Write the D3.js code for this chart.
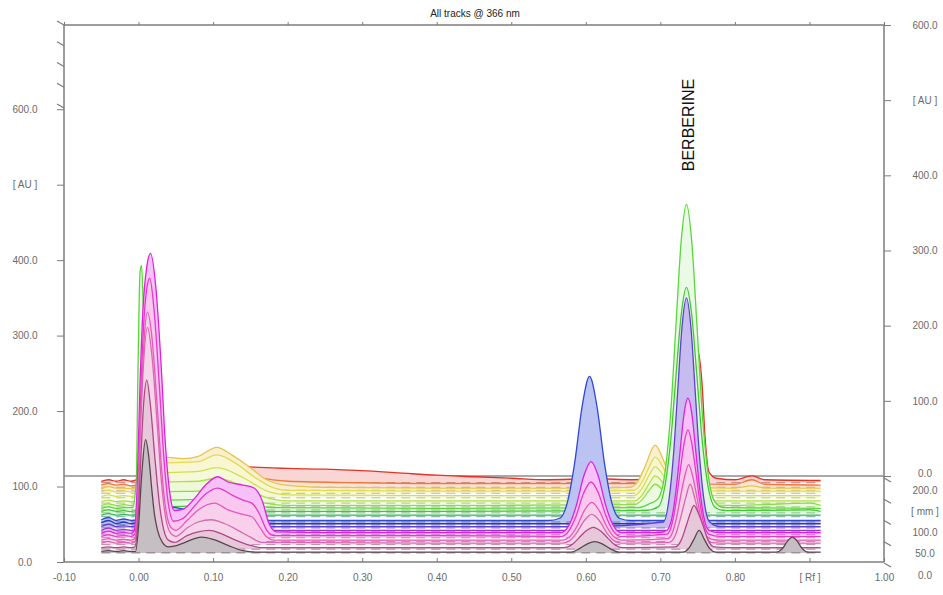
<!DOCTYPE html>
<html><head><meta charset="utf-8">
<script src="https://cdn.jsdelivr.net/npm/d3@7"></script>
<style>body{margin:0;background:#fff;} svg{display:block;font-family:"Liberation Sans",Arial,sans-serif;}</style>
</head><body><svg id="c" width="943" height="595"></svg>
<script>
// ---------------- data ----------------
const title = "All tracks @ 366 nm";
const peakLabel = "BERBERINE";
const peakLabelRf = 0.747;
const rfTicks = [-0.1, 0, 0.1, 0.2, 0.3, 0.4, 0.5, 0.6, 0.7, 0.8, 0.9, 1.0];
const rfTickLabels = ["-0.10","0.00","0.10","0.20","0.30","0.40","0.50","0.60","0.70","0.80","[ Rf ]","1.00"];
const auTicks = [0, 100, 200, 300, 400, 500, 600];
const auTickLabels = ["0.0","100.0","200.0","300.0","400.0","[ AU ]","600.0"];
const mmTicks = [0, 50, 100, 150, 200];
const mmTickLabels = ["0.0","50.0","100.0","[ mm ]","200.0"];

// track baselines (AU on the left scale), back (0) to front (19)
const trackBaselines = [105, 99, 95, 91, 85, 78, 73, 69, 65, 60, 53, 49, 45, 40, 36, 32, 27, 23, 17, 12];
const trackColors = ["#e03424","#f07838","#e6c448","#e2dc50","#d0e050","#b0e048","#88e040","#58d838","#40c830","#30b860",
                     "#3048d8","#2838b8","#6040d0","#a030d8","#e020e0","#e838c8","#e858b8","#d868b0","#b04888","#5a4650"];
const trackFillMix = [0.2,0.2,0.25,0.25,0.22,0.2,0.15,0.12,0.15,0.2,0.33,0.35,0.35,0.3,0.28,0.28,0.28,0.28,0.3,0.35];

// densitogram of each track: [Rf, AU above the track's baseline]
const trackProfiles = [
 // 0 red
 [[-0.05,2],[-0.04,4],[-0.03,2],[-0.02,4],[-0.01,2],[0.00,5],[0.02,18],[0.05,24],[0.10,26],[0.15,21],[0.20,19],[0.25,18],[0.30,16],[0.35,13],[0.40,10],[0.45,8],[0.50,6],[0.55,4],[0.59,5],[0.612,12],[0.63,5],[0.66,4],[0.70,5],[0.72,12],[0.73,80],[0.74,170],[0.75,175],[0.756,130],[0.760,60],[0.765,15],[0.775,6],[0.80,4],[0.823,9],[0.84,4],[0.915,3]],
 // 1 orange-red
 [[-0.05,3],[-0.04,5],[-0.03,3],[-0.02,4],[-0.01,2],[0.00,4],[0.03,25],[0.10,28],[0.15,15],[0.20,8],[0.30,6],[0.40,5],[0.50,5],[0.59,5],[0.612,10],[0.63,5],[0.70,5],[0.80,4],[0.823,10],[0.84,4],[0.915,3]],
 // 2 amber-yellow
 [[-0.05,2],[-0.04,5],[-0.03,3],[-0.02,3],[-0.01,2],[0.00,5],[0.02,30],[0.035,44],[0.06,42],[0.08,45],[0.105,57],[0.125,47],[0.15,30],[0.17,15],[0.19,8],[0.25,4],[0.40,3],[0.60,3],[0.66,4],[0.67,12],[0.68,33],[0.693,60],[0.705,38],[0.715,14],[0.725,5],[0.74,4],[0.80,3],[0.823,6],[0.84,3],[0.915,3]],
 // 3 yellow
 [[-0.05,2],[-0.04,4],[-0.03,2],[-0.02,3],[-0.01,2],[0.00,5],[0.02,28],[0.035,40],[0.08,42],[0.105,51],[0.13,40],[0.155,22],[0.175,10],[0.20,4],[0.40,3],[0.60,3],[0.665,4],[0.675,14],[0.685,35],[0.693,48],[0.705,32],[0.715,12],[0.725,4],[0.80,3],[0.915,3]],
 // 4 yellow-green
 [[-0.05,2],[-0.04,4],[-0.03,2],[-0.02,3],[-0.01,2],[0.00,5],[0.02,25],[0.035,33],[0.08,35],[0.105,40],[0.14,27],[0.17,10],[0.20,4],[0.40,3],[0.665,3],[0.675,12],[0.685,30],[0.693,41],[0.705,28],[0.715,10],[0.725,4],[0.80,3],[0.915,3]],
 // 5 lime
 [[-0.05,2],[-0.04,4],[-0.03,2],[-0.02,3],[-0.01,2],[0.00,4],[0.02,20],[0.035,28],[0.08,29],[0.105,33],[0.14,22],[0.17,8],[0.20,3],[0.40,3],[0.665,3],[0.675,10],[0.685,26],[0.693,36],[0.705,25],[0.715,9],[0.725,3],[0.80,3],[0.915,3]],
 // 6 light green
 [[-0.05,2],[-0.04,4],[-0.03,2],[-0.02,3],[-0.01,2],[0.00,4],[0.02,15],[0.035,20],[0.08,21],[0.105,24],[0.14,14],[0.17,5],[0.20,2],[0.40,2],[0.665,3],[0.675,9],[0.685,22],[0.693,30],[0.705,20],[0.715,8],[0.725,3],[0.80,2],[0.90,5],[0.915,2]],
 // 7 green
 [[-0.05,2],[-0.04,4],[-0.03,2],[-0.02,3],[-0.008,3],[-0.003,40],[-0.001,170],[0.002,315],[0.004,324],[0.007,250],[0.012,120],[0.02,50],[0.03,20],[0.04,13],[0.08,14],[0.105,16],[0.15,8],[0.18,3],[0.40,2],[0.67,3],[0.685,8],[0.697,15],[0.707,55],[0.714,131],[0.721,246],[0.728,357],[0.735,405],[0.742,357],[0.749,246],[0.756,131],[0.763,55],[0.773,11],[0.785,3],[0.915,2]],
 // 8 green
 [[-0.05,2],[-0.04,4],[-0.03,2],[-0.02,3],[-0.01,2],[0.00,3],[0.04,8],[0.105,10],[0.15,5],[0.18,2],[0.40,2],[0.68,3],[0.697,8],[0.707,41],[0.714,97],[0.721,182],[0.728,263],[0.735,299],[0.742,263],[0.749,182],[0.756,97],[0.763,41],[0.773,8],[0.785,3],[0.90,4],[0.915,2]],
 // 9 sea green
 [[-0.05,2],[-0.04,4],[-0.03,2],[-0.02,3],[-0.01,2],[0.00,3],[0.04,8],[0.10,8],[0.15,4],[0.18,2],[0.40,2],[0.915,2]],
 // 10 blue
 [[-0.05,3],[-0.04,6],[-0.03,2],[-0.02,4],[-0.01,2],[0.00,3],[0.04,20],[0.07,15],[0.10,10],[0.15,5],[0.18,2],[0.40,2],[0.55,2],[0.565,5],[0.575,25],[0.585,78],[0.595,153],[0.605,193],[0.615,153],[0.625,78],[0.635,25],[0.645,5],[0.66,2],[0.915,2]],
 // 11 blue
 [[-0.05,3],[-0.04,6],[-0.03,2],[-0.02,4],[-0.01,2],[0.00,3],[0.04,17],[0.07,12],[0.10,8],[0.15,4],[0.18,2],[0.915,2]],
 // 12 violet
 [[-0.05,2],[-0.04,5],[-0.03,2],[-0.02,3],[-0.01,2],[0.00,3],[0.04,14],[0.10,8],[0.15,4],[0.18,2],[0.60,2],[0.704,8],[0.712,41],[0.718,102],[0.7235,185],[0.729,266],[0.735,305],[0.741,266],[0.7465,185],[0.752,102],[0.758,41],[0.766,8],[0.78,2],[0.915,2]],
 // 13 purple
 [[-0.05,2],[-0.04,5],[-0.03,2],[-0.02,3],[-0.01,2],[0.00,3],[0.05,6],[0.10,6],[0.18,2],[0.915,2]],
 // 14 magenta
 [[-0.05,2],[-0.04,5],[-0.03,2],[-0.02,3],[-0.01,2],[-0.006,5],[-0.002,60],[0.002,200],[0.006,300],[0.011,355],[0.016,373],[0.023,330],[0.030,230],[0.036,120],[0.042,55],[0.048,32],[0.06,34],[0.075,48],[0.09,66],[0.106,77],[0.12,70],[0.14,66],[0.155,62],[0.166,45],[0.175,15],[0.185,4],[0.25,3],[0.40,3],[0.55,3],[0.567,3],[0.577,12],[0.587,38],[0.597,77],[0.607,97],[0.617,77],[0.627,38],[0.637,12],[0.647,3],[0.70,3],[0.709,6],[0.716,25],[0.721,59],[0.7264,110],[0.7317,160],[0.737,181],[0.7423,160],[0.7476,110],[0.753,59],[0.758,25],[0.765,6],[0.78,3],[0.915,3]],
 // 15 pink
 [[-0.05,2],[-0.04,4],[-0.03,2],[-0.02,3],[-0.01,2],[-0.005,5],[-0.001,55],[0.003,190],[0.007,285],[0.011,330],[0.015,344],[0.021,300],[0.028,200],[0.034,105],[0.040,45],[0.047,22],[0.06,26],[0.075,42],[0.09,58],[0.106,66],[0.125,57],[0.14,50],[0.152,46],[0.162,32],[0.172,10],[0.182,3],[0.40,3],[0.567,2],[0.577,9],[0.587,29],[0.597,59],[0.607,74],[0.617,59],[0.627,29],[0.637,9],[0.647,2],[0.709,5],[0.716,20],[0.721,47],[0.7265,88],[0.732,126],[0.737,143],[0.742,126],[0.7475,88],[0.753,47],[0.758,20],[0.765,5],[0.78,2],[0.915,2]],
 // 16 pink
 [[-0.05,2],[-0.04,4],[-0.03,2],[-0.02,3],[-0.01,2],[-0.005,4],[-0.001,50],[0.003,170],[0.007,260],[0.012,304],[0.018,270],[0.025,180],[0.031,95],[0.037,40],[0.044,18],[0.05,15],[0.065,28],[0.08,42],[0.102,51],[0.12,42],[0.14,36],[0.152,33],[0.162,20],[0.172,6],[0.182,2],[0.40,2],[0.568,2],[0.578,6],[0.588,20],[0.598,41],[0.608,52],[0.618,41],[0.628,20],[0.638,6],[0.648,2],[0.71,4],[0.717,14],[0.722,33],[0.7275,62],[0.733,88],[0.738,102],[0.743,88],[0.7485,62],[0.754,33],[0.759,14],[0.766,4],[0.78,2],[0.915,2]],
 // 17 pink
 [[-0.05,2],[-0.04,4],[-0.03,2],[-0.02,3],[-0.01,2],[-0.005,4],[-0.001,45],[0.003,160],[0.007,245],[0.012,288],[0.018,250],[0.025,160],[0.031,80],[0.037,32],[0.044,14],[0.05,11],[0.065,22],[0.08,30],[0.098,33],[0.115,28],[0.135,18],[0.15,10],[0.165,3],[0.40,2],[0.568,2],[0.578,5],[0.588,16],[0.598,32],[0.608,40],[0.618,32],[0.628,16],[0.638,5],[0.648,2],[0.712,3],[0.72,12],[0.727,35],[0.734,62],[0.740,80],[0.746,62],[0.753,35],[0.76,12],[0.768,3],[0.78,2],[0.915,2]],
 // 18 mauve
 [[-0.05,2],[-0.04,3],[-0.03,2],[-0.02,3],[-0.01,2],[-0.005,3],[-0.001,35],[0.003,120],[0.007,195],[0.011,224],[0.016,190],[0.022,120],[0.028,60],[0.034,25],[0.04,12],[0.048,9],[0.065,18],[0.08,23],[0.095,25],[0.11,21],[0.13,12],[0.15,5],[0.165,2],[0.40,2],[0.57,2],[0.58,5],[0.59,14],[0.60,24],[0.61,29],[0.62,24],[0.63,14],[0.64,5],[0.65,2],[0.72,3],[0.728,12],[0.735,32],[0.741,50],[0.745,58],[0.750,50],[0.757,32],[0.764,12],[0.772,3],[0.79,2],[0.915,2]],
 // 19 grey (front)
 [[-0.05,2],[-0.04,3],[-0.03,2],[-0.02,3],[-0.01,2],[-0.004,2],[0.000,35],[0.004,100],[0.0094,150],[0.014,125],[0.0175,87],[0.0215,50],[0.0255,30],[0.032,14],[0.04,8],[0.048,9],[0.06,13],[0.075,19],[0.085,21],[0.10,18],[0.12,10],[0.14,3],[0.16,1],[0.40,1],[0.58,1],[0.592,6],[0.602,12],[0.612,15],[0.622,12],[0.632,6],[0.645,1],[0.73,1],[0.738,6],[0.745,18],[0.752,30],[0.759,18],[0.766,6],[0.775,1],[0.855,1],[0.864,6],[0.87,15],[0.877,21],[0.884,15],[0.89,6],[0.899,1],[0.915,1]]
];

// ---------------- drawing ----------------
const svg = d3.select("#c");
const L = 64, R = 884, T = 25, B = 562;
const x = d3.scaleLinear().domain([-0.1, 1.0]).range([L, R]);
const y = d3.scaleLinear().domain([0, 711.6]).range([B, T]);
const yR = d3.scaleLinear().domain([0, 600]).range([476, T]);
const yMM = d3.scaleLinear().domain([0, 200]).range([563, 478]);
const yMMleft = d3.scaleLinear().domain([0, 200]).range([108, T]);

const axisCol = "#7c7c7c", labCol = "#6a6a6a";

// back plane line (right scale zero)
svg.append("line").attr("x1", L).attr("x2", R).attr("y1", yR(0)).attr("y2", yR(0))
  .attr("stroke", "#555").attr("stroke-width", 1.2);

// tracks, back to front
const gTracks = svg.append("g");
trackProfiles.forEach((prof, i) => {
  const base = trackBaselines[i];
  const col = trackColors[i];
  const fill = d3.interpolateRgb("#ffffff", col)(trackFillMix[i]);
  const g = gTracks.append("g");
  g.append("path").datum(prof)
    .attr("d", d3.area().x(d => x(d[0])).y0(y(base)).y1(d => y(base + d[1])).curve(d3.curveMonotoneX))
    .attr("fill", fill).attr("stroke", "none");
  const x0 = prof[0][0], x1 = prof[prof.length - 1][0];
  g.append("line").attr("x1", x(x0)).attr("x2", x(x1)).attr("y1", y(base)).attr("y2", y(base))
    .attr("stroke", d3.color(col).darker(1.2)).attr("stroke-width", 1)
    .attr("stroke-dasharray", "9,6").attr("opacity", 0.55);
  g.append("path").datum(prof)
    .attr("d", d3.line().x(d => x(d[0])).y(d => y(base + d[1])).curve(d3.curveMonotoneX))
    .attr("fill", "none").attr("stroke", col).attr("stroke-width", 1.3);
});

// frame lines
svg.append("line").attr("x1", L).attr("x2", R).attr("y1", T).attr("y2", T).attr("stroke", axisCol).attr("stroke-width", 1.5);
svg.append("line").attr("x1", L).attr("x2", L).attr("y1", T).attr("y2", B).attr("stroke", axisCol).attr("stroke-width", 1.5);
svg.append("line").attr("x1", R).attr("x2", R).attr("y1", T).attr("y2", B).attr("stroke", axisCol).attr("stroke-width", 1.5);
svg.append("line").attr("x1", L).attr("x2", R).attr("y1", B).attr("y2", B).attr("stroke", axisCol).attr("stroke-width", 1.5);

// bottom axis
const gx = svg.append("g").attr("transform", `translate(0,${B})`)
  .call(d3.axisBottom(x).tickValues(rfTicks).tickFormat((d, i) => rfTickLabels[i]).tickSizeInner(-4).tickSizeOuter(0));
gx.select(".domain").remove();
gx.selectAll(".tick line").attr("stroke", axisCol);
gx.selectAll(".tick text").attr("y", 12).attr("fill", labCol).style("font-size", "10px").style("font-family", "Liberation Sans, Arial, sans-serif");

// top ticks
const gt = svg.append("g").attr("transform", `translate(0,${T})`)
  .call(d3.axisTop(x).tickValues(rfTicks).tickFormat("").tickSizeInner(3).tickSizeOuter(0));
gt.select(".domain").remove();
gt.selectAll(".tick line").attr("stroke", axisCol);

// left axis
const gl = svg.append("g").attr("transform", `translate(${L},0)`)
  .call(d3.axisLeft(y).tickValues(auTicks).tickFormat((d, i) => auTickLabels[i]).tickSizeInner(7).tickSizeOuter(0));
gl.select(".domain").remove();
gl.selectAll(".tick line").attr("stroke", axisCol);
gl.selectAll(".tick text").attr("x", -39).attr("text-anchor", "middle").attr("fill", labCol)
  .style("font-size", "10px").style("font-family", "Liberation Sans, Arial, sans-serif");
// left slanted depth ticks
svg.append("g").selectAll("line").data(mmTicks).join("line")
  .attr("x1", L - 7).attr("y1", d => yMMleft(d) - 4).attr("x2", L).attr("y2", d => yMMleft(d))
  .attr("stroke", axisCol).attr("stroke-width", 1.2);

// right axis (upper AU)
const gr = svg.append("g").attr("transform", `translate(${R},0)`)
  .call(d3.axisRight(yR).tickValues(auTicks).tickFormat((d, i) => auTickLabels[i]).tickSizeInner(7).tickSizeOuter(0));
gr.select(".domain").remove();
gr.selectAll(".tick line").attr("stroke", axisCol);
gr.selectAll(".tick text").attr("x", 41).attr("text-anchor", "middle").attr("fill", labCol)
  .style("font-size", "10px").style("font-family", "Liberation Sans, Arial, sans-serif");
gr.selectAll(".tick text").filter(d => d === 0).attr("dy", "0.05em");

// right depth (mm) axis
svg.append("g").selectAll("line").data(mmTicks).join("line")
  .attr("x1", R).attr("y1", d => yMM(d)).attr("x2", R + 7).attr("y2", d => yMM(d) + 4)
  .attr("stroke", axisCol).attr("stroke-width", 1.2);
svg.append("g").selectAll("text").data(mmTicks).join("text")
  .attr("x", R + 41).attr("y", d => yMM(d) + 12).attr("dy", "0.35em").attr("text-anchor", "middle")
  .attr("fill", labCol).style("font-size", "10px").text((d, i) => mmTickLabels[i]);

// title
svg.append("text").attr("x", 475).attr("y", 17).attr("text-anchor", "middle")
  .attr("fill", "#222").style("font-size", "10px").text(title);

// peak label
svg.append("text").attr("transform", `translate(${x(peakLabelRf) - 1},125) rotate(-90)`)
  .attr("text-anchor", "middle").attr("fill", "#111").style("font-size", "16px").text(peakLabel);
</script>
</body></html>
